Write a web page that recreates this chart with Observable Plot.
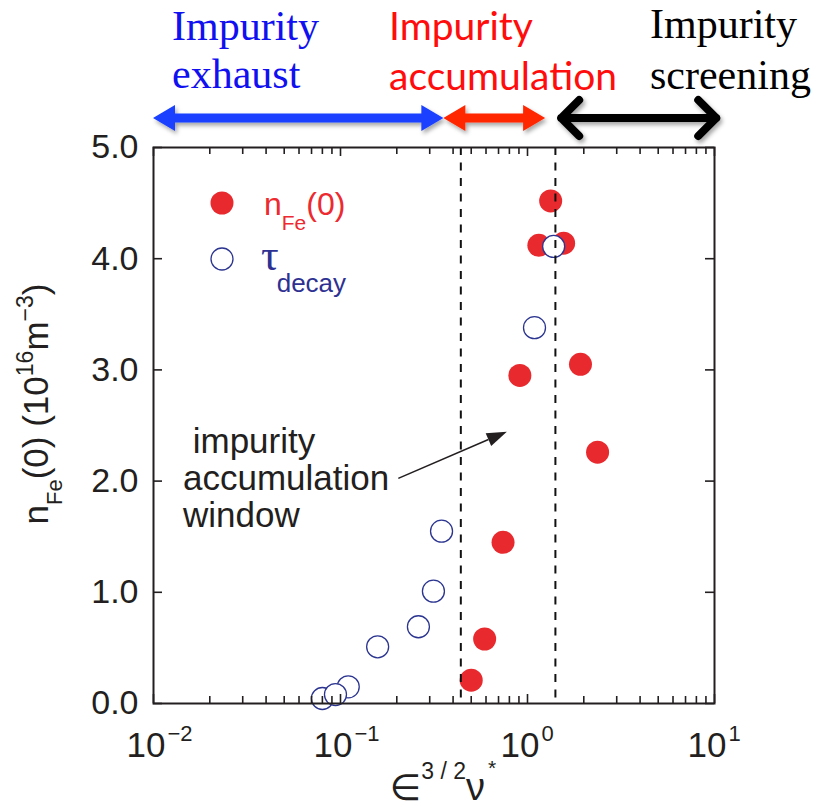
<!DOCTYPE html>
<html>
<head>
<meta charset="utf-8">
<script src="https://cdn.jsdelivr.net/npm/d3@7"></script>
<script src="https://cdn.jsdelivr.net/npm/@observablehq/plot@0.6"></script>
<style>
  body { margin: 0; background: #fff; }
  svg { display: block; }
</style>
</head>
<body>
<div id="chart"></div>
<script>
// Central iron density n_Fe(0) versus the collisionality parameter ε^{3/2}ν*
const nFeX = [1.33, 1.15, 1.56, 1.92, 0.91, 2.37, 0.74, 0.59, 0.50];
const nFeY = [4.52, 4.12, 4.14, 3.05, 2.95, 2.26, 1.45, 0.58, 0.21];

// Decay-time points (open circles)
const tauX = [1.38, 1.09, 0.347, 0.314, 0.261, 0.158, 0.110, 0.080, 0.094];
const tauY = [4.11, 3.38, 1.55, 1.01, 0.69, 0.51, 0.15, 0.045, 0.08];

// Edges of the accumulation window (dashed lines)
const windowEdges = [0.44, 1.41];

// Axis ticks
const yTicks = [0, 1, 2, 3, 4, 5];
const decades = [0.01, 0.1, 1, 10];
const decadeExponents = ["\u22122", "\u22121", "0", "1"];

// Transport regimes shown above the chart
const regimeNames = [["Impurity", "exhaust"], ["Impurity", "accumulation"], ["Impurity", "screening"]];
const regimeFrom = [0.01, 0.357, 1.45];
const regimeTo = [0.357, 1.25, 10.8];
const regimeColors = ["#1a40ff", "#ff2600", "#000000"];
const regimeTextColors = ["#1010f0", "#ff0d0d", "#000000"];

// Annotation arrow (from the label to the window)
const annotationFrom = {x: 0.205, y: 2.02};
const annotationTo = {x: 0.78, y: 2.44};

const W = 813, H = 812;
const M = {top: 147, right: 99, bottom: 109, left: 153};
const innerW = W - M.left - M.right;
const innerH = H - M.top - M.bottom;

const nFe = nFeX.map((x, i) => ({x, y: nFeY[i]}));
const tau = tauX.map((x, i) => ({x, y: tauY[i]}));
const minorX = decades.slice(0, 3).flatMap(d => [2, 3, 4, 5, 6, 7, 8, 9].map(k => k * d));

const ink = "#231f20";
const sans = "'Liberation Sans', Arial, Helvetica, sans-serif";

const plot = Plot.plot({
  width: W,
  height: H,
  marginTop: M.top,
  marginRight: M.right,
  marginBottom: M.bottom,
  marginLeft: M.left,
  style: {fontFamily: sans, background: "#fff", overflow: "visible"},
  x: {type: "log", domain: [0.01, 10], axis: null},
  y: {domain: [0, 5], axis: null},
  marks: [
    Plot.dot(nFe, {x: "x", y: "y", r: 11.5, fill: "#e8292e"}),
    Plot.dot(tau, {x: "x", y: "y", r: 11, fill: "#fff", stroke: "#2b3590", strokeWidth: 1.3}),
    Plot.ruleX(windowEdges, {stroke: "#111", strokeWidth: 2, strokeDasharray: "8,7.5"}),
    // inward ticks, bottom and top
    Plot.ruleX(decades, {x: d => d, stroke: ink, strokeWidth: 1.6, insetTop: innerH - 9}),
    Plot.ruleX(minorX, {x: d => d, stroke: ink, strokeWidth: 1.6, insetTop: innerH - 7}),
    Plot.ruleX(decades, {x: d => d, stroke: ink, strokeWidth: 1.6, insetBottom: innerH - 9}),
    Plot.ruleX(minorX, {x: d => d, stroke: ink, strokeWidth: 1.6, insetBottom: innerH - 7}),
    // inward ticks, left and right
    Plot.ruleY(yTicks, {y: d => d, stroke: ink, strokeWidth: 1.6, insetRight: innerW - 9}),
    Plot.ruleY(yTicks, {y: d => d, stroke: ink, strokeWidth: 1.6, insetLeft: innerW - 9}),
    Plot.frame({stroke: ink, strokeWidth: 2}),
    // y tick labels
    Plot.text(yTicks, {y: d => d, text: d => d.toFixed(1), frameAnchor: "left", textAnchor: "end",
      dx: -15, fontSize: 34, fill: ink}),
    // x tick labels 10^n
    Plot.text(decades, {x: d => d, text: () => "10", frameAnchor: "bottom", textAnchor: "end",
      lineAnchor: "bottom", dx: 12, dy: 53, fontSize: 35, fill: ink}),
    Plot.text(decades, {x: d => d, text: (d, i) => decadeExponents[i], frameAnchor: "bottom", textAnchor: "start",
      lineAnchor: "bottom", dx: 14, dy: 37, fontSize: 22, fill: ink})
  ]
});

document.getElementById("chart").appendChild(plot);

const svg = d3.select(plot);
const sx = plot.scale("x").apply;
const sy = plot.scale("y").apply;

// drop shadow for the regime arrows
const defs = svg.append("defs");
defs.append("filter").attr("id", "soft-shadow").attr("x", "-10%").attr("y", "-60%")
  .attr("width", "130%").attr("height", "260%")
  .append("feDropShadow").attr("dx", 2).attr("dy", 3).attr("stdDeviation", 2)
  .attr("flood-color", "#000").attr("flood-opacity", 0.35);

// regime arrows
const arrowY = 118;
regimeNames.forEach((_, i) => {
  const x0 = sx(regimeFrom[i]), x1 = sx(regimeTo[i]);
  const g = svg.append("g").attr("filter", "url(#soft-shadow)");
  if (i < 2) {
    const hl = 22, hw = 13, sw = 4.5;
    const p = [
      [x0, arrowY], [x0 + hl, arrowY - hw], [x0 + hl, arrowY - sw], [x1 - hl, arrowY - sw],
      [x1 - hl, arrowY - hw], [x1, arrowY], [x1 - hl, arrowY + hw], [x1 - hl, arrowY + sw],
      [x0 + hl, arrowY + sw], [x0 + hl, arrowY + hw]
    ];
    g.append("path").attr("d", "M" + p.join("L") + "Z").attr("fill", regimeColors[i]);
  } else {
    const a = 18, s = 4;
    g.append("path")
      .attr("d", `M${x0 + s},${arrowY}L${x1 - s},${arrowY}` +
        `M${x0 + a + s},${arrowY - a}L${x0 + s},${arrowY}L${x0 + a + s},${arrowY + a}` +
        `M${x1 - a - s},${arrowY - a}L${x1 - s},${arrowY}L${x1 - a - s},${arrowY + a}`)
      .attr("fill", "none").attr("stroke", regimeColors[i]).attr("stroke-width", 8)
      .attr("stroke-linecap", "round").attr("stroke-linejoin", "round");
  }
});

// regime labels
const regimeLayout = [
  {x: 172, y: [40, 88], font: "'Liberation Serif', 'Times New Roman', serif", size: 42},
  {x: 389, y: [40, 90], font: "Lato, 'Liberation Sans', sans-serif", size: 39},
  {x: 650, y: [38, 89], font: "'Liberation Serif', 'Times New Roman', serif", size: 42}
];
regimeNames.forEach((lines, i) => {
  const L = regimeLayout[i];
  lines.forEach((t, j) => {
    svg.append("text").attr("x", L.x).attr("y", L.y[j]).attr("text-anchor", "start")
      .attr("font-family", L.font).attr("font-size", L.size).attr("fill", regimeTextColors[i]).text(t);
  });
});

// legend
const legend = svg.append("g").attr("text-anchor", "start");
legend.append("circle").attr("cx", 222).attr("cy", 203).attr("r", 11.5).attr("fill", "#e8292e");
legend.append("circle").attr("cx", 222).attr("cy", 259).attr("r", 11).attr("fill", "#fff")
  .attr("stroke", "#2b3590").attr("stroke-width", 1.3);
const l1 = legend.append("text").attr("x", 264).attr("y", 215).attr("font-family", sans)
  .attr("fill", "#ec2a30").attr("font-size", 32);
l1.append("tspan").text("n");
l1.append("tspan").attr("font-size", 21).attr("dy", 15).text("Fe");
l1.append("tspan").attr("dy", -15).text("(0)");
const l2 = legend.append("text").attr("x", 261).attr("y", 270).attr("fill", "#2e3192");
l2.append("tspan").attr("font-family", "'Liberation Serif', serif").attr("font-size", 44).text("\u03c4");
l2.append("tspan").attr("font-family", sans).attr("font-size", 26).attr("dy", 22).attr("dx", -2).text("decay");

// annotation
const ann = svg.append("text").attr("text-anchor", "start").attr("font-family", sans)
  .attr("font-size", 35).attr("fill", ink);
[[" impurity", 453], ["accumulation", 490], ["window", 527]].forEach(([t, y]) => {
  ann.append("tspan").attr("x", 183).attr("y", y).attr("xml:space", "preserve").text(t);
});
{
  const ax0 = sx(annotationFrom.x), ay0 = sy(annotationFrom.y);
  const ax1 = sx(annotationTo.x), ay1 = sy(annotationTo.y);
  const ang = Math.atan2(ay1 - ay0, ax1 - ax0);
  const hl = 20, hw = 7;
  const bx = ax1 - hl * Math.cos(ang), by = ay1 - hl * Math.sin(ang);
  svg.append("line").attr("x1", ax0).attr("y1", ay0).attr("x2", bx).attr("y2", by)
    .attr("stroke", ink).attr("stroke-width", 1.6);
  const nx = -Math.sin(ang), ny = Math.cos(ang);
  svg.append("path")
    .attr("d", `M${ax1},${ay1}L${bx + nx * hw},${by + ny * hw}L${bx - nx * hw},${by - ny * hw}Z`)
    .attr("fill", ink);
}

// y axis title
const yt = svg.append("text").attr("transform", "translate(48,404) rotate(-90)")
  .attr("text-anchor", "middle").attr("font-family", sans).attr("font-size", 35).attr("fill", ink);
yt.append("tspan").text("n");
yt.append("tspan").attr("font-size", 22).attr("dy", 14).text("Fe");
yt.append("tspan").attr("dy", -14).text("(0) (10");
yt.append("tspan").attr("font-size", 23).attr("dy", -15).text("16");
yt.append("tspan").attr("dy", 15).text("m");
yt.append("tspan").attr("font-size", 23).attr("dy", -15).text("\u22123");
yt.append("tspan").attr("dy", 15).text(")");

// x axis title
const xt = svg.append("text").attr("x", 443).attr("y", 800).attr("text-anchor", "middle")
  .attr("fill", ink).attr("font-family", sans);
xt.append("tspan").attr("font-family", "'DejaVu Sans', sans-serif").attr("font-size", 36).text("\u2208");
xt.append("tspan").attr("font-size", 23).attr("dy", -21).text("3 / 2");
xt.append("tspan").attr("font-size", 38).attr("dy", 21).text("\u03bd");
xt.append("tspan").attr("font-size", 21).attr("dy", -25).attr("dx", 3).text("*");
</script>
</body>
</html>
